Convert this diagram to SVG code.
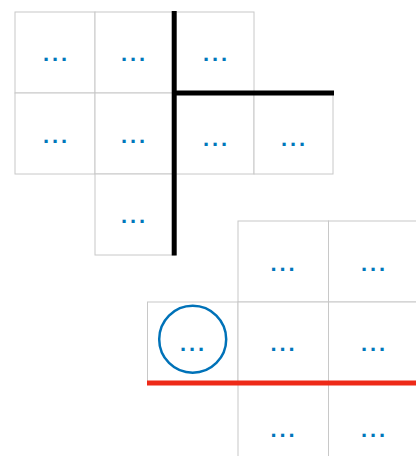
<svg xmlns="http://www.w3.org/2000/svg" width="416" height="456" viewBox="0 0 416 456">
  <style>
    .cell { fill: #ffffff; stroke: #c8c8c8; stroke-width: 1; }
    .lbl { font-family: "Liberation Sans", Arial, sans-serif; font-size: 22px; font-weight: bold; fill: #0077bb; letter-spacing: 2.9px; }
    .ring { fill: none; stroke: #0072b8; stroke-width: 2.5; }
    .black { fill: none; stroke: #000000; stroke-width: 5; }
    .red { fill: none; stroke: #ee2a18; stroke-width: 5; }
  </style>
  <rect width="416" height="456" fill="#ffffff"/>
  <g id="top-grid">
    <g id="t00"><rect class="cell" x="15" y="12" width="80" height="81"/><text class="lbl" x="43" y="61">...</text></g>
    <g id="t01"><rect class="cell" x="95" y="12" width="80" height="81"/><text class="lbl" x="121" y="61">...</text></g>
    <g id="t02"><rect class="cell" x="175" y="12" width="79" height="81"/><text class="lbl" x="203" y="61">...</text></g>
    <g id="t10"><rect class="cell" x="15" y="93" width="80" height="81"/><text class="lbl" x="43" y="143">...</text></g>
    <g id="t11"><rect class="cell" x="95" y="93" width="80" height="81"/><text class="lbl" x="121" y="143">...</text></g>
    <g id="t12"><rect class="cell" x="175" y="93" width="79" height="81"/><text class="lbl" x="203" y="146">...</text></g>
    <g id="t13"><rect class="cell" x="254" y="93" width="79" height="81"/><text class="lbl" x="281" y="146">...</text></g>
    <g id="t21"><rect class="cell" x="95" y="174" width="80" height="81"/><text class="lbl" x="121" y="223">...</text></g>
  </g>
  <g id="bottom-grid">
    <g id="b01"><rect class="cell" x="238" y="221" width="90.5" height="81"/><text class="lbl" x="270.5" y="271">...</text></g>
    <g id="b02"><rect class="cell" x="328.5" y="221" width="90.5" height="81"/><text class="lbl" x="361" y="271">...</text></g>
    <g id="b10"><rect class="cell" x="147.5" y="302" width="90.5" height="81"/><circle class="ring" cx="192.7" cy="339.3" r="33.5"/><text class="lbl" x="180" y="350.5">...</text></g>
    <g id="b11"><rect class="cell" x="238" y="302" width="90.5" height="81"/><text class="lbl" x="270.5" y="350.5">...</text></g>
    <g id="b12"><rect class="cell" x="328.5" y="302" width="90.5" height="81"/><text class="lbl" x="361" y="350.5">...</text></g>
    <g id="b21"><rect class="cell" x="238" y="383" width="90.5" height="81"/><text class="lbl" x="270.5" y="436.5">...</text></g>
    <g id="b22"><rect class="cell" x="328.5" y="383" width="90.5" height="81"/><text class="lbl" x="361" y="436.5">...</text></g>
  </g>
  <g id="connectors">
    <path class="black" d="M174.2 11 V255.5 M174.2 93 H334"/>
    <path class="red" d="M147 383 H418"/>
  </g>
</svg>
